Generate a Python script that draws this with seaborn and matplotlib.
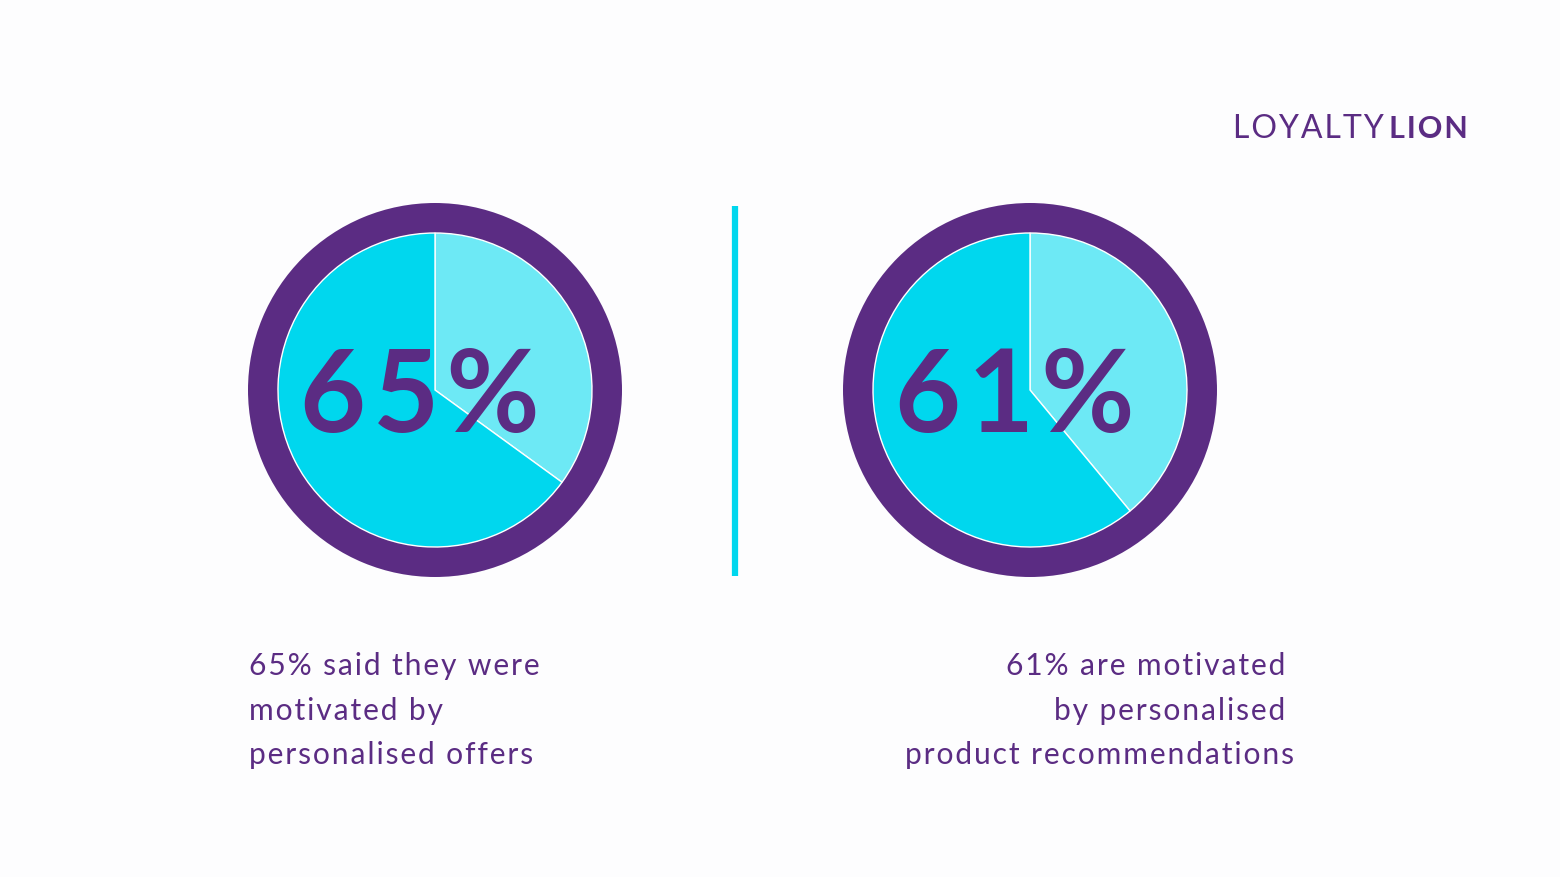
import matplotlib
matplotlib.use('Agg')
import matplotlib.pyplot as plt
import seaborn as sns

# data
shares = [65, 61]
big_labels = ['65%', '61%']
captions = [
    ['65% said they were', 'motivated by', 'personalised offers'],
    ['61% are motivated', 'by personalised', 'product recommendations'],
]

purple = '#5B2C83'
cyan = '#00D7EE'
light_cyan = '#6DE9F5'
bg = '#FDFDFE'

sns.set_theme(style='white')
plt.rcParams['font.family'] = ['Lato', 'DejaVu Sans']

W, H = 1560, 878
fig = plt.figure(figsize=(W / 100, H / 100), dpi=100, facecolor=bg)
ax = fig.add_axes([0, 0, 1, 1])
ax.set_facecolor(bg)


def fy(y):
    # pixel row from top -> data y
    return H - y


def spaced(s, gap='\u200a'):
    # rough letter spacing
    return gap.join(s)


centers = [(435, 391), (1030, 391)]
for share, label, (cx, cy) in zip(shares, big_labels, centers):
    # purple ring behind the pie
    ax.pie([1], colors=[purple], radius=187, center=(cx, fy(cy)),
           wedgeprops=dict(linewidth=0), frame=True)
    ax.pie([100 - share, share], colors=[light_cyan, cyan], radius=157,
           center=(cx, fy(cy)), startangle=90, counterclock=False,
           wedgeprops=dict(edgecolor='white', linewidth=1.0), frame=True)
    ax.text(cx - 15, fy(432), spaced(label), ha='center', va='baseline',
            fontsize=82, fontweight='bold', color=purple)

ax.set_xlim(0, W)
ax.set_ylim(0, H)
ax.set_aspect('equal')
ax.axis('off')

# divider
ax.plot([735, 735], [fy(207), fy(577)], color=cyan, lw=4.5, solid_capstyle='butt')

# captions
baselines = [675, 720, 764]
for line, yb in zip(captions[0], baselines):
    ax.text(249, fy(yb), spaced(line), ha='left', va='baseline', fontsize=21.6,
            color=purple)
right_x = [1285, 1285, 1294]
for line, yb, xr in zip(captions[1], baselines, right_x):
    ax.text(xr, fy(yb), spaced(line), ha='right', va='baseline', fontsize=21.6,
            color=purple)

# logo wordmark
ax.text(1233, fy(138), spaced('LOYALTY'), ha='left', va='baseline',
        fontsize=23, color=purple)
ax.text(1389, fy(138), spaced('LION'), ha='left', va='baseline',
        fontsize=22, color=purple, fontweight='bold')

fig.savefig('out.png', dpi=100, facecolor=bg)
